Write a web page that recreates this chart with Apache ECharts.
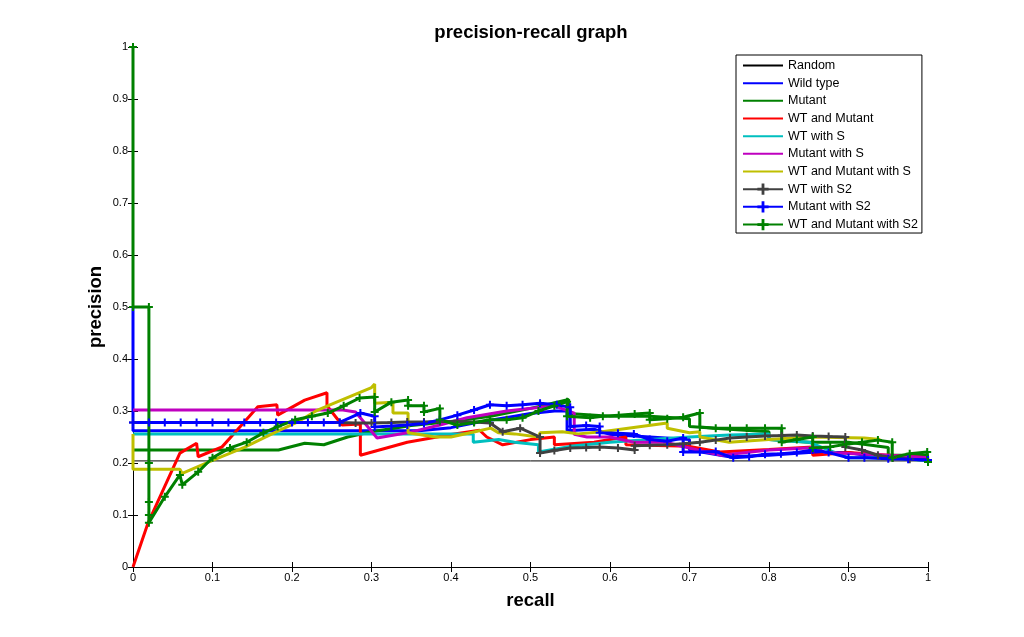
<!DOCTYPE html>
<html><head><meta charset="utf-8">
<script src="https://cdn.jsdelivr.net/npm/echarts@6/dist/echarts.min.js"></script>
<style>html,body{margin:0;padding:0;background:#fff}#c{width:1024px;height:637px}</style>
</head><body><div id="c"></div>
<script>
const seriesNames = ['Random','Wild type','Mutant','WT and Mutant','WT with S','Mutant with S','WT and Mutant with S','WT with S2','Mutant with S2','WT and Mutant with S2'];
const seriesColors = ['#000000','#0000ff','#008000','#ff0000','#00bfbf','#bf00bf','#bfbf00','#404040','#0000ff','#008000'];
const randomLine = [[0,0.204],[1,0.204]];
const wildType = [[0,0.5],[0,0.262],[0.36,0.262],[0.4,0.268],[0.44,0.28],[0.48,0.29],[0.5,0.295],[0.53,0.3],[0.546,0.3],[0.546,0.262],[0.58,0.265],[0.6,0.255],[0.65,0.25],[0.7,0.245],[0.7,0.225],[0.75,0.212],[0.8,0.215],[0.85,0.22],[0.9,0.22],[0.92,0.215],[0.96,0.21],[1,0.205]];
const mutant = [[0,0.225],[0.183,0.225],[0.216,0.238],[0.24,0.235],[0.27,0.25],[0.3,0.26],[0.35,0.272],[0.4,0.28],[0.45,0.29],[0.5,0.305],[0.548,0.322],[0.548,0.295],[0.6,0.29],[0.65,0.29],[0.7,0.285],[0.7,0.27],[0.75,0.265],[0.8,0.26],[0.8,0.245],[0.85,0.24],[0.9,0.24],[0.95,0.23],[0.95,0.215],[1,0.215]];
const wtAndMutant = [[0,0],[0.019,0.085],[0.059,0.219],[0.08,0.238],[0.082,0.212],[0.112,0.231],[0.128,0.258],[0.157,0.308],[0.181,0.312],[0.182,0.292],[0.216,0.321],[0.244,0.335],[0.244,0.31],[0.263,0.273],[0.286,0.275],[0.286,0.215],[0.345,0.24],[0.4,0.255],[0.436,0.263],[0.445,0.25],[0.465,0.235],[0.5,0.245],[0.53,0.25],[0.53,0.235],[0.58,0.24],[0.6,0.245],[0.62,0.25],[0.62,0.235],[0.7,0.232],[0.738,0.221],[0.8,0.226],[0.855,0.231],[0.855,0.215],[0.9,0.22],[0.95,0.215],[1,0.21]];
const wtWithS = [[0,0.256],[0.428,0.256],[0.428,0.24],[0.46,0.245],[0.48,0.24],[0.51,0.235],[0.51,0.221],[0.55,0.232],[0.6,0.24],[0.65,0.245],[0.7,0.25],[0.75,0.254],[0.8,0.256],[0.8,0.245],[0.85,0.24],[0.9,0.21],[0.95,0.21],[1,0.205]];
const mutantWithS = [[0,0.302],[0.264,0.302],[0.28,0.298],[0.307,0.248],[0.345,0.258],[0.386,0.273],[0.42,0.287],[0.47,0.3],[0.53,0.31],[0.555,0.296],[0.555,0.255],[0.571,0.25],[0.6,0.25],[0.63,0.24],[0.67,0.24],[0.71,0.225],[0.74,0.215],[0.8,0.225],[0.86,0.23],[0.87,0.22],[0.95,0.215],[1,0.21]];
const wtAndMutantWithS = [[0,0.256],[0,0.188],[0.059,0.188],[0.062,0.18],[0.1,0.205],[0.14,0.23],[0.18,0.26],[0.206,0.278],[0.23,0.3],[0.25,0.313],[0.3,0.345],[0.304,0.352],[0.304,0.315],[0.327,0.317],[0.327,0.296],[0.346,0.296],[0.346,0.258],[0.38,0.25],[0.4,0.25],[0.43,0.26],[0.45,0.267],[0.46,0.258],[0.48,0.256],[0.51,0.25],[0.512,0.258],[0.54,0.26],[0.56,0.256],[0.59,0.26],[0.672,0.277],[0.672,0.267],[0.7,0.258],[0.713,0.26],[0.713,0.25],[0.75,0.24],[0.8,0.245],[0.85,0.25],[0.92,0.248],[0.94,0.245]];
const wtWithS2 = [[0,0.278],[0.26,0.278],[0.28,0.277],[0.3,0.277],[0.325,0.278],[0.345,0.279],[0.366,0.279],[0.386,0.28],[0.408,0.28],[0.429,0.279],[0.449,0.277],[0.465,0.26],[0.487,0.267],[0.512,0.25],[0.512,0.219],[0.53,0.224],[0.55,0.229],[0.57,0.23],[0.587,0.231],[0.61,0.229],[0.631,0.225],[0.631,0.233],[0.65,0.234],[0.672,0.235],[0.692,0.237],[0.713,0.24],[0.733,0.244],[0.751,0.248],[0.772,0.25],[0.795,0.252],[0.816,0.253],[0.835,0.254],[0.855,0.252],[0.875,0.251],[0.896,0.25],[0.896,0.231],[0.917,0.225],[0.937,0.215],[0.956,0.21],[0.977,0.207],[1,0.206]];
const mutantWithS2 = [[0,0.278],[0.02,0.278],[0.04,0.278],[0.06,0.278],[0.08,0.278],[0.1,0.278],[0.12,0.278],[0.14,0.278],[0.16,0.278],[0.18,0.278],[0.2,0.278],[0.22,0.278],[0.24,0.278],[0.26,0.278],[0.286,0.296],[0.304,0.29],[0.304,0.269],[0.325,0.271],[0.345,0.273],[0.366,0.276],[0.386,0.283],[0.408,0.292],[0.429,0.302],[0.449,0.312],[0.47,0.31],[0.49,0.312],[0.512,0.315],[0.533,0.312],[0.55,0.307],[0.55,0.27],[0.57,0.272],[0.587,0.27],[0.587,0.258],[0.61,0.257],[0.63,0.256],[0.65,0.245],[0.672,0.242],[0.692,0.248],[0.692,0.221],[0.713,0.221],[0.733,0.222],[0.755,0.21],[0.775,0.212],[0.795,0.217],[0.815,0.218],[0.835,0.22],[0.855,0.225],[0.875,0.22],[0.9,0.21],[0.92,0.21],[0.95,0.208],[0.975,0.207],[1,0.206]];
const wtAndMutantWithS2 = [[0,1],[0,0.5],[0.02,0.5],[0.02,0.2],[0.02,0.125],[0.02,0.1],[0.02,0.085],[0.04,0.135],[0.059,0.177],[0.062,0.158],[0.082,0.183],[0.1,0.21],[0.122,0.229],[0.143,0.24],[0.164,0.258],[0.182,0.27],[0.204,0.283],[0.225,0.29],[0.245,0.296],[0.265,0.31],[0.285,0.325],[0.304,0.327],[0.304,0.298],[0.325,0.317],[0.346,0.321],[0.346,0.31],[0.366,0.31],[0.366,0.298],[0.386,0.305],[0.386,0.283],[0.408,0.273],[0.429,0.278],[0.449,0.283],[0.47,0.283],[0.49,0.287],[0.51,0.3],[0.53,0.31],[0.546,0.318],[0.546,0.29],[0.575,0.287],[0.591,0.29],[0.611,0.292],[0.631,0.294],[0.65,0.296],[0.65,0.283],[0.672,0.285],[0.692,0.288],[0.713,0.296],[0.713,0.269],[0.733,0.267],[0.751,0.267],[0.772,0.267],[0.795,0.267],[0.816,0.267],[0.816,0.24],[0.835,0.245],[0.855,0.25],[0.855,0.229],[0.877,0.231],[0.897,0.236],[0.917,0.24],[0.937,0.244],[0.955,0.24],[0.955,0.21],[0.977,0.218],[0.999,0.221],[1,0.202]];

const allData = [randomLine, wildType, mutant, wtAndMutant, wtWithS, mutantWithS, wtAndMutantWithS, wtWithS2, mutantWithS2, wtAndMutantWithS2];
const hasMarker = [false,false,false,false,false,false,false,true,true,true];
const FONT = "'Liberation Sans', Arial, Helvetica, sans-serif";
const PLUS = 'path://M3,0H5V3H8V5H5V8H3V5H0V3H3Z';

const chart = echarts.init(document.getElementById('c'), null, {renderer:'canvas'});
const axisCommon = {
  type:'value', min:0, max:1, interval:0.1,
  axisLine:{show:true, lineStyle:{color:'#000', width:1}},
  axisTick:{show:true, inside:true, length:5, lineStyle:{color:'#000'}},
  splitLine:{show:false}
};
const option = {
  animation:false,
  backgroundColor:'#fff',
  title:{text:'precision-recall graph', left:526, top:18, textAlign:'center',
    textStyle:{fontFamily:FONT, fontSize:18.5, fontWeight:'bold', color:'#000'}},
  grid:{left:133, right:96, top:47, bottom:70, containLabel:false},
  legend:{
    orient:'vertical', left:736, top:55, itemWidth:40, itemHeight:14, itemGap:4.67, itemTextGap:4,
    padding:[4,4,2,6], borderColor:'#000', borderWidth:1, backgroundColor:'#fff',
    textStyle:{fontFamily:FONT, fontSize:12.5, color:'#000'},
    data: seriesNames.map((n,i)=> hasMarker[i] ? {name:n} : {name:n, itemStyle:{opacity:0}})
  },
  xAxis:[
    Object.assign({}, axisCommon, {position:'bottom', name:'recall', nameLocation:'middle', nameGap:24, nameMoveOverlap:false,
      nameTextStyle:{fontFamily:FONT, fontSize:18.5, fontWeight:'bold', color:'#000'},
      axisLabel:{margin:5, fontFamily:FONT, fontSize:11, color:'#000', formatter:v=>String(+v.toFixed(1))}}),
    Object.assign({}, axisCommon, {position:'top', axisLabel:{show:false}})
  ],
  yAxis:[
    Object.assign({}, axisCommon, {position:'left', name:'precision', nameLocation:'middle', nameGap:28, nameRotate:90, nameMoveOverlap:false,
      nameTextStyle:{fontFamily:FONT, fontSize:18.5, fontWeight:'bold', color:'#000'},
      axisLabel:{margin:5, fontFamily:FONT, fontSize:11, color:'#000', formatter:v=>String(+v.toFixed(1))}}),
    Object.assign({}, axisCommon, {position:'right', axisLabel:{show:false}})
  ],
  series: allData.map((d,i)=>({
    name: seriesNames[i], type:'line', data:d, xAxisIndex:0, yAxisIndex:0,
    color: seriesColors[i],
    lineStyle:{width: i===0 ? 1 : 3, color: seriesColors[i]},
    itemStyle:{color: seriesColors[i]},
    symbol: hasMarker[i] ? PLUS : 'none',
    symbolSize: 8,
    showSymbol: hasMarker[i], showAllSymbol: true,
    emphasis:{disabled:true}, silent:true, clip:true
  }))
};
chart.setOption(option);
</script></body></html>
